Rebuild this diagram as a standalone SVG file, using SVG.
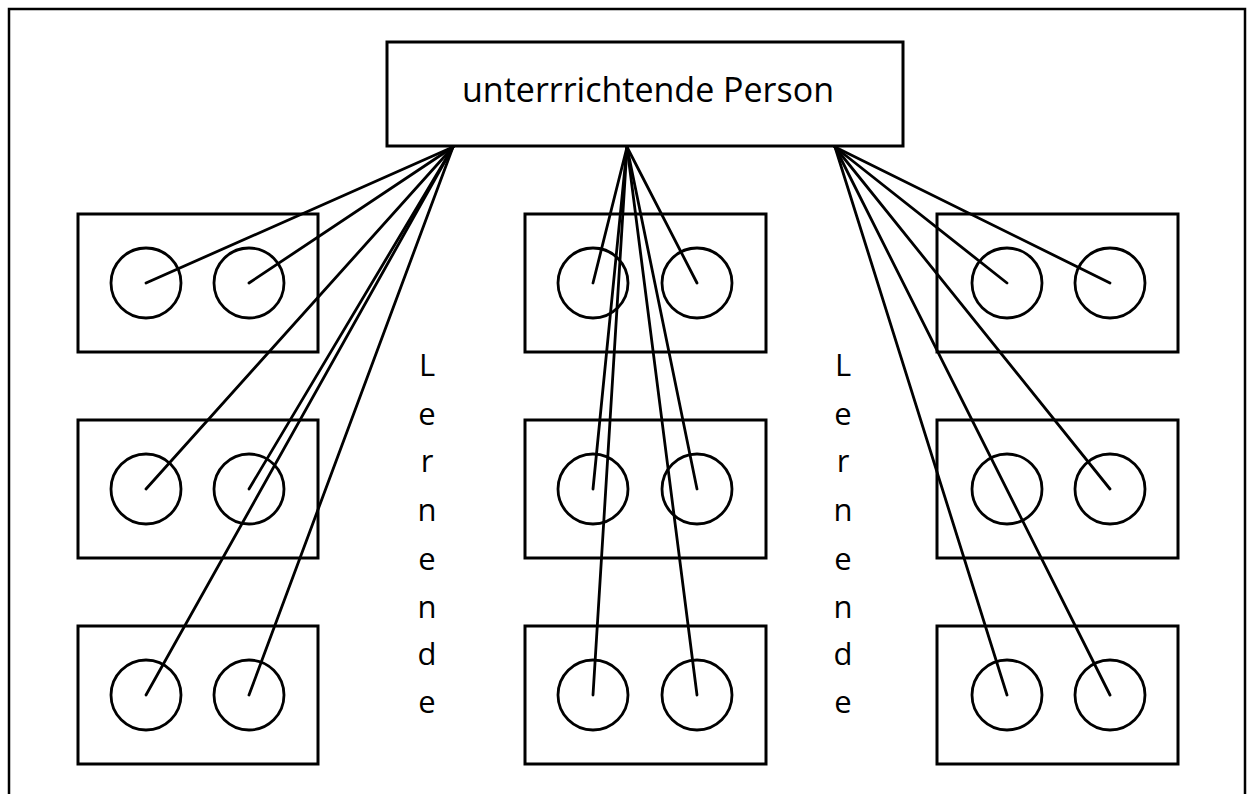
<svg xmlns="http://www.w3.org/2000/svg" width="1247" height="794" viewBox="0 0 1247 794">
<style>
.box{fill:#fff;stroke:#000;stroke-width:3}
.c{fill:none;stroke:#000;stroke-width:2.8}
.ln{stroke:#000;stroke-width:2.8;stroke-linecap:round;fill:none}
.t{font-family:"Open Sans","Liberation Sans",sans-serif;font-size:34px;fill:#000}
.v{font-family:"Open Sans","Liberation Sans",sans-serif;font-size:31px;fill:#000;text-anchor:middle}
</style>
<rect width="1247" height="794" fill="#fff"/>
<path d="M9,794 V9 H1245 V794" fill="none" stroke="#000" stroke-width="2.5"/>
<g id="teacher">
<rect class="box" x="387" y="42" width="516" height="104"/>
<text class="t" x="648" y="102" text-anchor="middle">unterrrichtende Person</text>
</g>
<g id="group-l1"><rect class="box" x="78" y="214" width="240" height="138"/><circle class="c" cx="146" cy="283" r="35"/><circle class="c" cx="249" cy="283" r="35"/></g>
<g id="group-l2"><rect class="box" x="78" y="420" width="240" height="138"/><circle class="c" cx="146" cy="489" r="35"/><circle class="c" cx="249" cy="489" r="35"/></g>
<g id="group-l3"><rect class="box" x="78" y="626" width="240" height="138"/><circle class="c" cx="146" cy="695" r="35"/><circle class="c" cx="249" cy="695" r="35"/></g>
<g id="group-m1"><rect class="box" x="525" y="214" width="241" height="138"/><circle class="c" cx="593" cy="283" r="35"/><circle class="c" cx="697" cy="283" r="35"/></g>
<g id="group-m2"><rect class="box" x="525" y="420" width="241" height="138"/><circle class="c" cx="593" cy="489" r="35"/><circle class="c" cx="697" cy="489" r="35"/></g>
<g id="group-m3"><rect class="box" x="525" y="626" width="241" height="138"/><circle class="c" cx="593" cy="695" r="35"/><circle class="c" cx="697" cy="695" r="35"/></g>
<g id="group-r1"><rect class="box" x="937" y="214" width="241" height="138"/><circle class="c" cx="1007" cy="283" r="35"/><circle class="c" cx="1110" cy="283" r="35"/></g>
<g id="group-r2"><rect class="box" x="937" y="420" width="241" height="138"/><circle class="c" cx="1007" cy="489" r="35"/><circle class="c" cx="1110" cy="489" r="35"/></g>
<g id="group-r3"><rect class="box" x="937" y="626" width="241" height="138"/><circle class="c" cx="1007" cy="695" r="35"/><circle class="c" cx="1110" cy="695" r="35"/></g>
<g id="label-left">
<text class="v" x="427" y="376">L</text><text class="v" x="427" y="425">e</text><text class="v" x="427" y="472">r</text><text class="v" x="427" y="521">n</text><text class="v" x="427" y="570">e</text><text class="v" x="427" y="618">n</text><text class="v" x="427" y="665">d</text><text class="v" x="427" y="713">e</text>
</g>
<g id="label-right">
<text class="v" x="843" y="376">L</text><text class="v" x="843" y="425">e</text><text class="v" x="843" y="472">r</text><text class="v" x="843" y="521">n</text><text class="v" x="843" y="570">e</text><text class="v" x="843" y="618">n</text><text class="v" x="843" y="665">d</text><text class="v" x="843" y="713">e</text>
</g>
<g id="connectors">
<line class="ln" x1="453" y1="147" x2="146" y2="283"/>
<line class="ln" x1="453" y1="147" x2="249" y2="283"/>
<line class="ln" x1="453" y1="147" x2="146" y2="489"/>
<line class="ln" x1="453" y1="147" x2="249" y2="489"/>
<line class="ln" x1="453" y1="147" x2="146" y2="695"/>
<line class="ln" x1="453" y1="147" x2="249" y2="695"/>
<line class="ln" x1="627" y1="147" x2="593" y2="283"/>
<line class="ln" x1="627" y1="147" x2="697" y2="283"/>
<line class="ln" x1="627" y1="147" x2="593" y2="489"/>
<line class="ln" x1="627" y1="147" x2="697" y2="489"/>
<line class="ln" x1="627" y1="147" x2="593" y2="695"/>
<line class="ln" x1="627" y1="147" x2="697" y2="695"/>
<line class="ln" x1="835" y1="147" x2="1007" y2="283"/>
<line class="ln" x1="835" y1="147" x2="1110" y2="283"/>
<line class="ln" x1="835" y1="147" x2="1110" y2="489"/>
<line class="ln" x1="835" y1="147" x2="1007" y2="695"/>
<line class="ln" x1="835" y1="147" x2="1110" y2="695"/>
</g>
</svg>
